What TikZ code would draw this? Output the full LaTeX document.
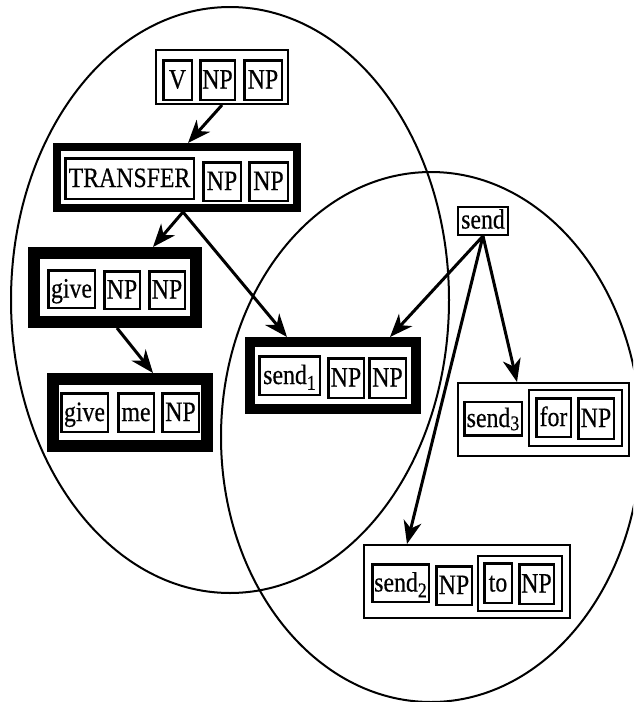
\documentclass[tikz,border=0pt]{standalone}
\usepackage{fontspec}
\setmainfont[FakeStretch=0.85,FakeBold=0.4]{Liberation Serif}
\usetikzlibrary{arrows.meta}
\newcommand{\sbs}[1]{\raisebox{-0.45ex}{\fontsize{21}{21}\selectfont #1}}
\begin{document}
\begin{tikzpicture}[x=1pt,y=-1pt,
  inb/.style={draw, line width=2.5pt, inner sep=0pt, anchor=center, text height=21pt, text depth=4pt, font=\fontsize{28}{28}\selectfont},
  thinb/.style={draw, line width=2pt, inner sep=0pt, anchor=center},
  thickb/.style={draw, line width=#1, inner sep=0pt, anchor=center},
  arr/.style={line width=3pt, -{Stealth[length=23pt,width=18pt,inset=7pt]}},
  ell/.style={line width=2pt}]
\useasboundingbox (0,0) rectangle (633,702);
\clip (0,0) rectangle (633,702);
\fill[white] (0,0) rectangle (633,702);

% ellipses
\draw[ell] (230,300) ellipse [x radius=219, y radius=293];
\draw[ell] (431,437) ellipse [x radius=210, y radius=265];

% V NP NP
\node[thinb, minimum width=132pt, minimum height=54pt] (vnp) at (222,77) {};
\node[inb, minimum width=28.5pt, minimum height=39.5pt] (v) at (177.5,80) {V};
\node[inb, minimum width=34.5pt, minimum height=39.5pt] (vnp1) at (217.5,80) {NP};
\node[inb, minimum width=37.5pt, minimum height=39.5pt] (vnp2) at (263,80) {NP};

% TRANSFER NP NP
\node[thickb=8pt, minimum width=240pt, minimum height=61pt] (transfer) at (177,177.5) {};
\node[inb, minimum width=128.5pt, minimum height=40.5pt] (tr) at (129.5,178.5) {TRANSFER};
\node[inb, minimum width=37.5pt, minimum height=38.5pt] (tnp1) at (222,181.5) {NP};
\node[inb, minimum width=38.5pt, minimum height=38.5pt] (tnp2) at (268.5,181.5) {NP};

% give NP NP
\node[thickb=12pt, minimum width=162pt, minimum height=69pt] (giveA) at (115,287.5) {};
\node[inb, minimum width=46.5pt, minimum height=37.5pt] (gA) at (71.5,289) {give};
\node[inb, minimum width=35.5pt, minimum height=37.5pt] (gAnp1) at (122,290) {NP};
\node[inb, minimum width=35.5pt, minimum height=37.5pt] (gAnp2) at (167,290) {NP};

% give me NP
\node[thickb=12pt, minimum width=154pt, minimum height=67pt] (giveB) at (130,412.5) {};
\node[inb, minimum width=46.5pt, minimum height=38.5pt] (gB) at (84.5,412.5) {give};
\node[inb, minimum width=35.5pt, minimum height=38.5pt] (gBme) at (136,412.5) {me};
\node[inb, minimum width=36.5pt, minimum height=38.5pt] (gBnp) at (180.5,412.5) {NP};

% send1 NP NP
\node[thickb=10pt, minimum width=166pt, minimum height=67pt] (sendA) at (333,375.5) {};
\node[inb, minimum width=60.5pt, minimum height=38.5pt] (sA) at (289.5,375.5) {send\sbs{1}};
\node[inb, minimum width=35.5pt, minimum height=39.5pt] (sAnp1) at (346,378) {NP};
\node[inb, minimum width=36.5pt, minimum height=39.5pt] (sAnp2) at (387.5,378) {NP};

% send
\node[inb, line width=2pt, minimum width=50pt, minimum height=28pt, text height=19pt, text depth=4pt] (send) at (483,221) {send};

% send3 for NP
\node[thinb, minimum width=171pt, minimum height=73pt] (sendC) at (543.5,419.5) {};
\node[inb, minimum width=57.5pt, minimum height=33.5pt] (sC) at (493,418.5) {send{\raisebox{-0.25ex}{\fontsize{21}{21}\selectfont 3}}};
\node[thinb, minimum width=93pt, minimum height=56pt] (forgrp) at (575.5,418) {};
\node[inb, minimum width=34.5pt, minimum height=38.5pt] (sCfor) at (553.5,417.5) {for};
\node[inb, minimum width=35.5pt, minimum height=40.5pt] (sCnp) at (596,418.5) {NP};

% send2 NP to NP
\node[thinb, minimum width=206pt, minimum height=73pt] (sendB) at (467,581.5) {};
\node[inb, minimum width=56.5pt, minimum height=37.5pt] (sB) at (400.5,583) {send\sbs{2}};
\node[inb, minimum width=35.5pt, minimum height=38.5pt] (sBnp1) at (454,585.5) {NP};
\node[thinb, minimum width=84pt, minimum height=55pt] (togrp) at (520,583.5) {};
\node[inb, minimum width=27.5pt, minimum height=39.5pt] (sBto) at (498,583) {to};
\node[inb, minimum width=34.5pt, minimum height=39.5pt] (sBnp2) at (536.5,584) {NP};

% arrows
\draw[arr] (vnp.south) -- ([xshift=11pt]transfer.north);
\draw[arr] ([xshift=6pt]transfer.south) -- ([xshift=38pt]giveA.north);
\draw[arr] ([xshift=6pt]transfer.south) -- ([xshift=-46pt]sendA.north);
\draw[arr] ([xshift=2pt]giveA.south) -- ([xshift=23pt]giveB.north);
\draw[arr] (send.south) -- ([xshift=57pt]sendA.north);
\draw[arr] (send.south) -- ([xshift=-26.5pt]sendC.north);
\draw[arr] (send.south) -- ([xshift=-60pt]sendB.north);
\end{tikzpicture}
\end{document}
